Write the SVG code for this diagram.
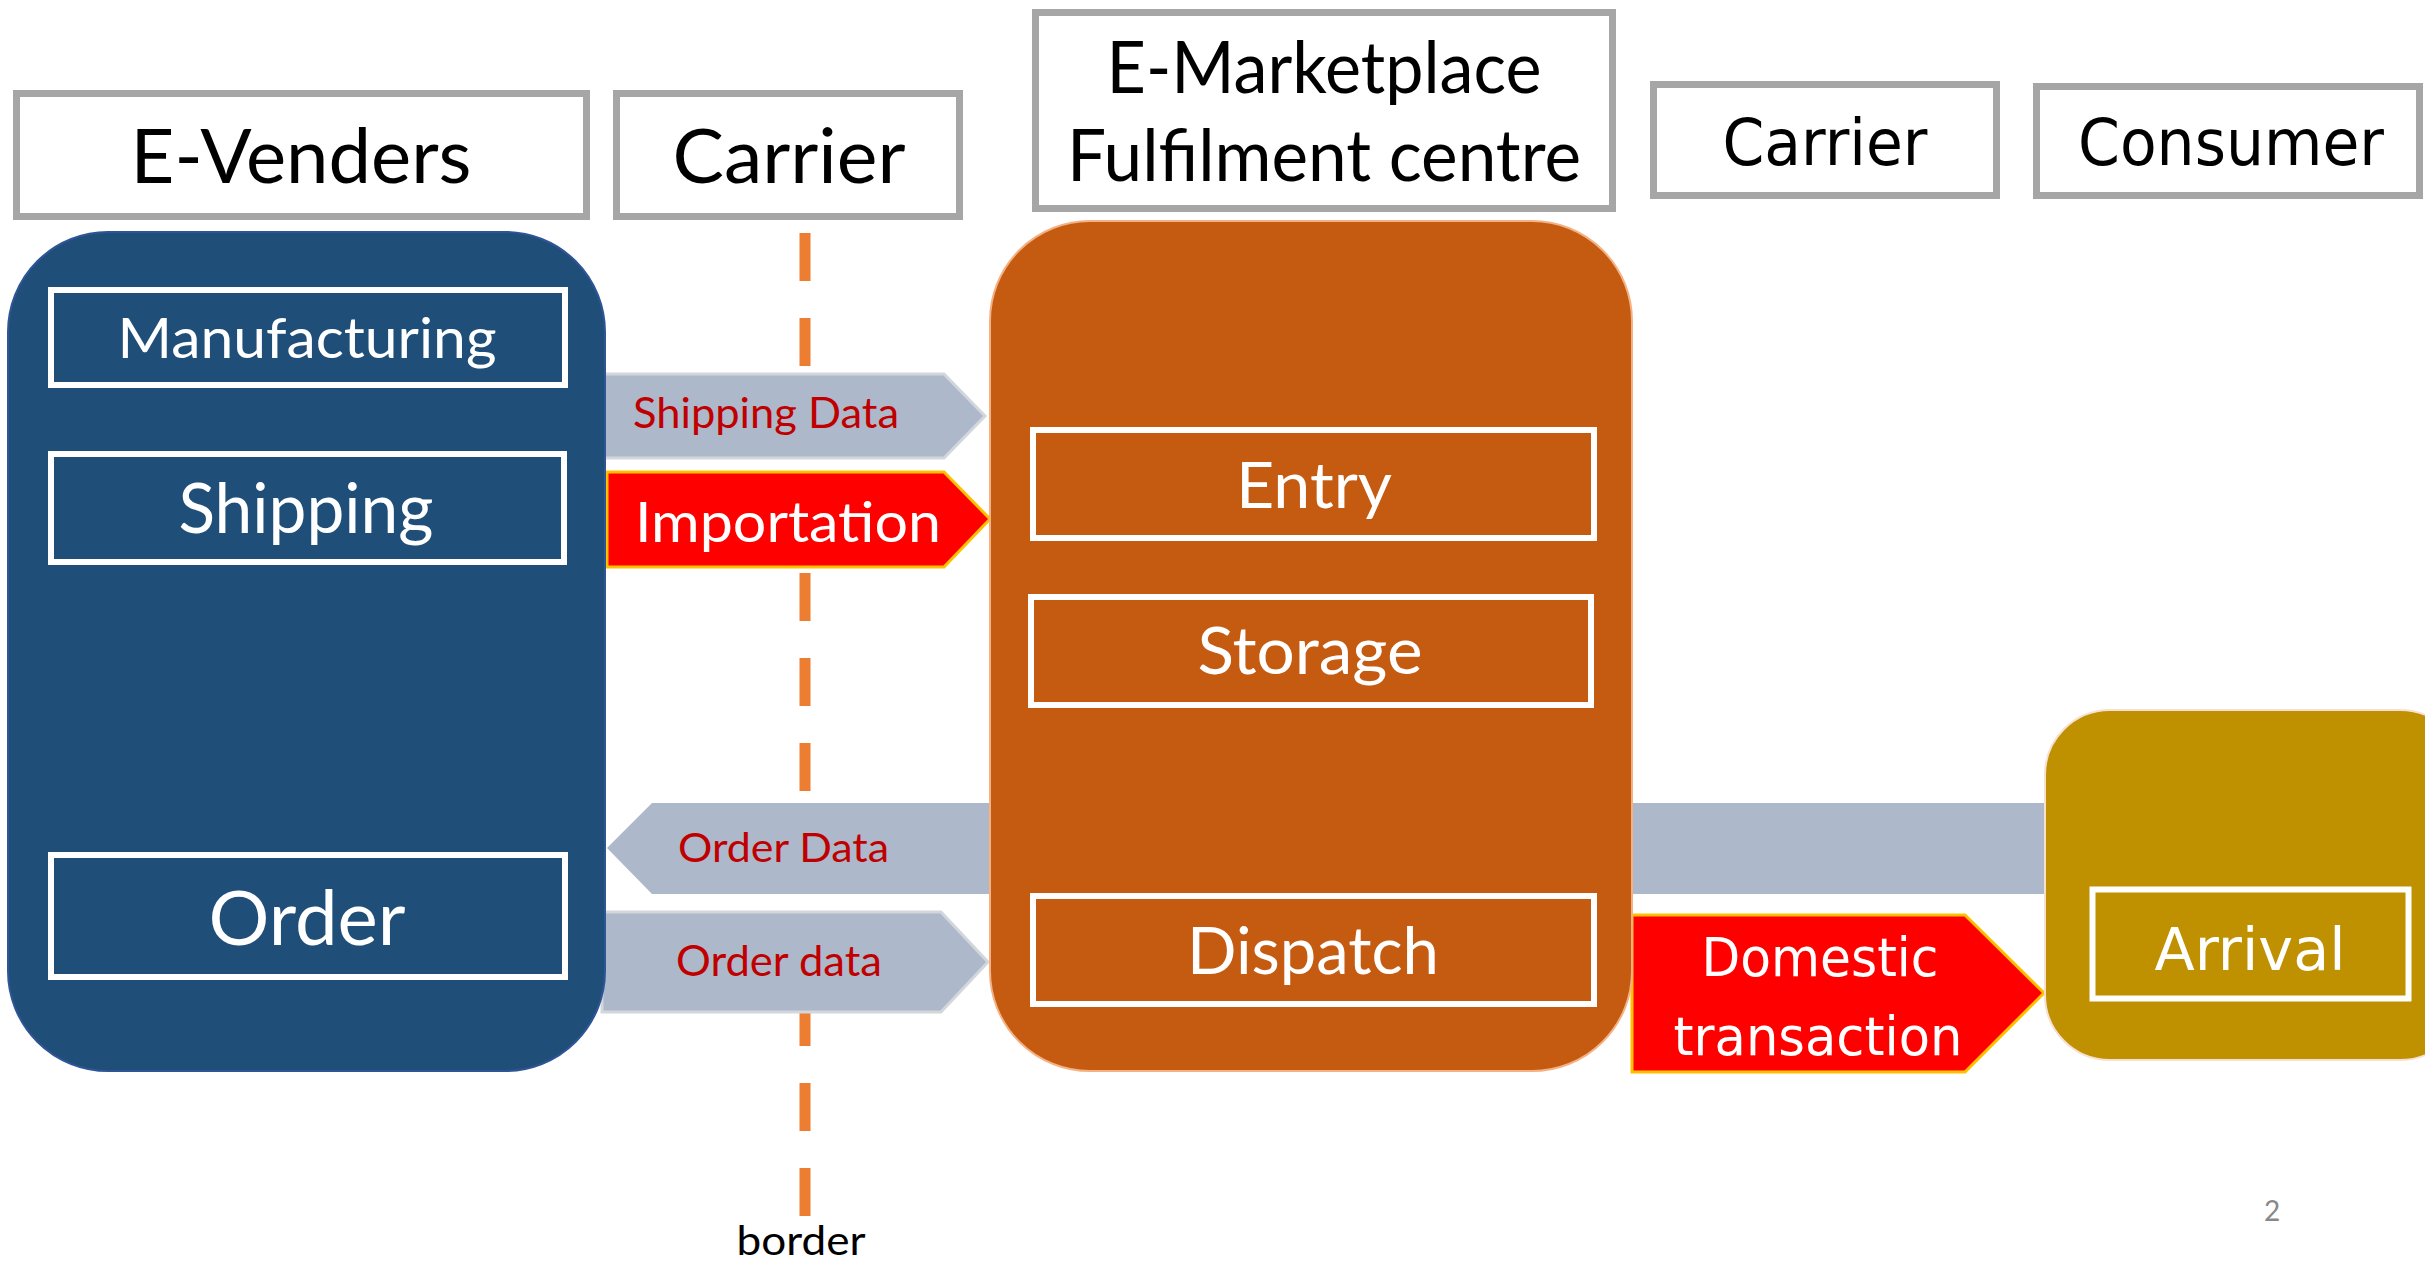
<svg xmlns="http://www.w3.org/2000/svg" width="2425" height="1263" viewBox="0 0 2425 1263">
<style>
.hdr{fill:#fff;stroke:#A6A6A6;stroke-width:7}
.cal{font-family:Lato,"Open Sans",sans-serif}
.ver{font-family:"DejaVu Sans",Verdana,sans-serif}
.blk{fill:#000}
.wht{fill:#fff}
.red{fill:#C00000}
.inner{fill:none;stroke:#fff;stroke-width:6}
.gray{fill:#ADB9CA;stroke:#D3D6DB;stroke-width:3}
.redarr{fill:#FF0000;stroke:#FFC000;stroke-width:3}
</style>
<rect width="2425" height="1263" fill="#fff"/>

<g id="header-evenders">
<rect class="hdr" x="16.5" y="93.5" width="570" height="123"/>
<text class="cal blk" x="301" y="183" font-size="76" text-anchor="middle" textLength="341" lengthAdjust="spacingAndGlyphs">E-Venders</text>
</g>
<g id="header-carrier1">
<rect class="hdr" x="616.5" y="93.5" width="343" height="123"/>
<text class="cal blk" x="789" y="183" font-size="76" text-anchor="middle" textLength="233" lengthAdjust="spacingAndGlyphs">Carrier</text>
</g>
<g id="header-marketplace">
<rect class="hdr" x="1035.5" y="12.5" width="577" height="196"/>
<text class="cal blk" x="1324" y="93" font-size="71" text-anchor="middle" textLength="435" lengthAdjust="spacingAndGlyphs">E-Marketplace</text>
<text class="cal blk" x="1324" y="181" font-size="71" text-anchor="middle" textLength="514" lengthAdjust="spacingAndGlyphs">Fulfilment centre</text>
</g>
<g id="header-carrier2">
<rect class="hdr" x="1653.5" y="84.5" width="343" height="111"/>
<text class="ver blk" x="1825" y="165" font-size="64" text-anchor="middle" textLength="205" lengthAdjust="spacingAndGlyphs">Carrier</text>
</g>
<g id="header-consumer">
<rect class="hdr" x="2036.5" y="86.5" width="383" height="109"/>
<text class="ver blk" x="2231" y="165" font-size="64" text-anchor="middle" textLength="306" lengthAdjust="spacingAndGlyphs">Consumer</text>
</g>

<g id="border-line">
<line x1="805" y1="233" x2="805" y2="1220" stroke="#ED7D31" stroke-width="11" stroke-dasharray="48 37"/>
<text class="cal blk" x="801" y="1255" font-size="40" text-anchor="middle" textLength="129" lengthAdjust="spacingAndGlyphs">border</text>
</g>

<g id="connectors">
<g id="shipping-data">
<polygon class="gray" points="603,374 944,374 985,416 944,458 603,458"/>
<text class="cal red" x="633" y="428" font-size="43" textLength="266" lengthAdjust="spacingAndGlyphs">Shipping Data</text>
</g>
<g id="importation">
<polygon class="redarr" points="607,472 944,472 990,519 944,567 607,567"/>
<text class="cal wht" x="635" y="542" font-size="56" textLength="306" lengthAdjust="spacingAndGlyphs">Importation</text>
</g>
<g id="order-data-back">
<polygon fill="#ADB9CA" points="2045,803 652,803 607,848 652,894 2045,894"/>
<text class="cal red" x="678" y="862" font-size="40" textLength="211" lengthAdjust="spacingAndGlyphs">Order Data</text>
</g>
<g id="order-data-fwd">
<polygon class="gray" points="602,912 941,912 988,962 941,1012 602,1012"/>
<text class="cal red" x="676" y="976" font-size="42" textLength="206" lengthAdjust="spacingAndGlyphs">Order data</text>
</g>
<g id="domestic">
<polygon class="redarr" points="1632,915 1965,915 2044,993 1965,1072 1632,1072"/>
<text class="ver wht" x="1820" y="976" font-size="54" text-anchor="middle" textLength="237" lengthAdjust="spacingAndGlyphs">Domestic</text>
<text class="ver wht" x="1818" y="1055" font-size="54" text-anchor="middle" textLength="289" lengthAdjust="spacingAndGlyphs">transaction</text>
</g>
</g>

<g id="node-evenders">
<rect x="8" y="232" width="597" height="839" rx="100" ry="100" fill="#1F4E79" stroke="#2F5597" stroke-width="2"/>
<rect class="inner" x="51" y="290" width="514" height="95"/>
<text class="cal wht" x="307" y="358" font-size="56" text-anchor="middle" textLength="379" lengthAdjust="spacingAndGlyphs">Manufacturing</text>
<rect class="inner" x="51" y="454" width="513" height="108"/>
<text class="cal wht" x="306" y="533" font-size="69" text-anchor="middle" textLength="255" lengthAdjust="spacingAndGlyphs">Shipping</text>
<rect class="inner" x="51" y="855" width="514" height="122"/>
<text class="cal wht" x="307" y="945" font-size="76" text-anchor="middle" textLength="197" lengthAdjust="spacingAndGlyphs">Order</text>
</g>

<g id="node-fulfilment">
<rect x="990" y="221" width="642" height="850" rx="100" ry="100" fill="#C55A11" stroke="#F4B183" stroke-width="2"/>
<rect class="inner" x="1033" y="430" width="561" height="108" stroke-width="7"/>
<text class="cal wht" x="1314" y="508" font-size="64" text-anchor="middle" textLength="156" lengthAdjust="spacingAndGlyphs">Entry</text>
<rect class="inner" x="1031" y="597" width="560" height="108" stroke-width="7"/>
<text class="cal wht" x="1310" y="674" font-size="65" text-anchor="middle" textLength="225" lengthAdjust="spacingAndGlyphs">Storage</text>
<rect class="inner" x="1033" y="896" width="561" height="108" stroke-width="7"/>
<text class="cal wht" x="1313" y="974" font-size="65" text-anchor="middle" textLength="252" lengthAdjust="spacingAndGlyphs">Dispatch</text>
</g>

<g id="node-consumer">
<rect x="2045" y="710" width="420" height="350" rx="65" ry="65" fill="#BF9000" stroke="#F8E0D0" stroke-width="2"/>
<rect class="inner" x="2092.5" y="889.5" width="316" height="109" stroke-width="7"/>
<text class="ver wht" x="2250" y="970" font-size="58" text-anchor="middle" textLength="191" lengthAdjust="spacingAndGlyphs">Arrival</text>
</g>

<text class="cal" x="2272" y="1221" font-size="28" fill="#888" text-anchor="middle">2</text>
</svg>
